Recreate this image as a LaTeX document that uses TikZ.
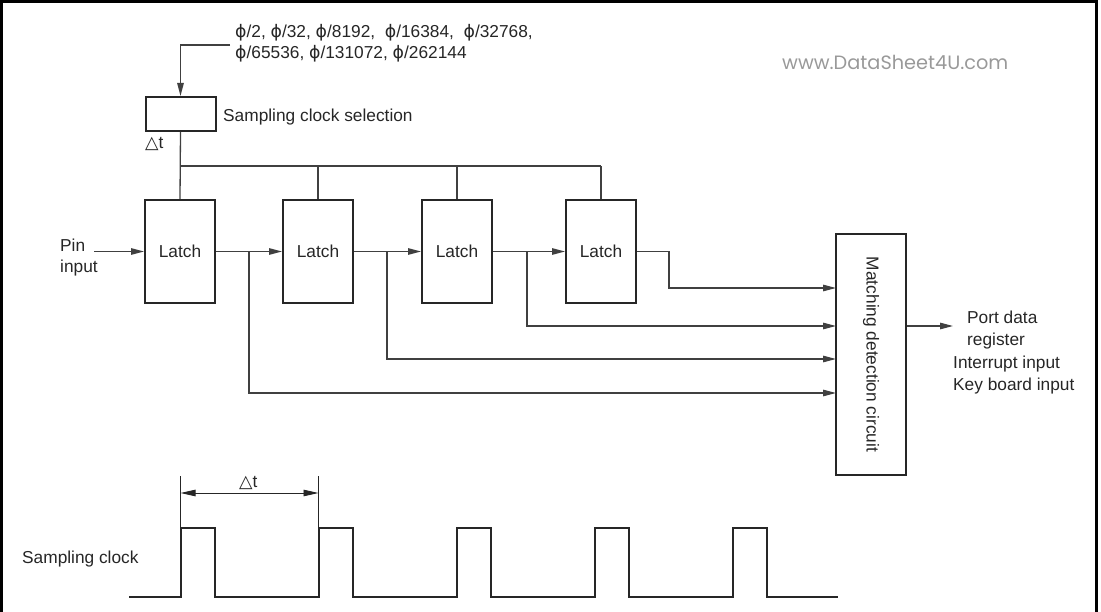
\documentclass[tikz,border=0pt]{standalone}
\usepackage{fontspec}
\setmainfont{Liberation Sans}
\newfontfamily\dvs{DejaVu Sans}
\newfontfamily\wmfont{Poppins}
\usetikzlibrary{arrows.meta}
\newcommand\phig{{\dvs ϕ}}
\newcommand\mydt{{\dvs\fontsize{17.5}{18}\selectfont △}t}
\begin{document}
\begin{tikzpicture}[x=1pt,y=-1pt,
  every node/.style={font=\fontsize{17.3}{21}\selectfont, text=black!85},
  box/.style={draw=black!85, line width=2pt, inner sep=0, minimum width=70pt},
  wire/.style={draw=black!75, line width=1.3pt},
  arr/.style={wire, -{Triangle[length=13pt,width=6.5pt]}},
  lbl/.style={inner sep=0, anchor=base west},
  wave/.style={draw=black!85, line width=2pt},
  dim/.style={draw=black!85, line width=0.9pt},
]
\useasboundingbox (0,0) rectangle (1101,612);
\draw[line width=3pt] (1.5,615) -- (1.5,1.5) -- (1096.5,1.5) -- (1096.5,615);

% boxes
\node[box, minimum height=34pt] (sel) at (180.5,114) {};
\node[box, minimum height=103pt] (L1) at (180,251.5) {Latch};
\node[box, minimum height=103pt] (L2) at (318,251.5) {Latch};
\node[box, minimum height=103pt] (L3) at (457,251.5) {Latch};
\node[box, minimum height=103pt] (L4) at (601,251.5) {Latch};
\node[box, minimum height=241pt] (M) at (871,354.5) {};
\node[rotate=-90, inner sep=0] (Mt) at (M.center) {Matching detection circuit};

% labels
\node[lbl] (t1) at (235,38) {\phig/2, \phig/32, \phig/8192,\ \ \phig/16384,\ \ \phig/32768,};
\node[lbl] (t2) at (235,59) {\phig/65536, \phig/131072, \phig/262144};
\node[lbl] (selt) at (223,122) {Sampling clock selection};
\node[lbl] (dt1) at (145,149) {\mydt};
\node[lbl] (pin) at (60,252) {Pin};
\node[lbl] (pin2) at (60,273) {input};
\node[lbl] (o1) at (967,324) {Port data};
\node[lbl] (o2) at (967,346) {register};
\node[lbl] (o3) at (953,369) {Interrupt input};
\node[lbl] (o4) at (953,391) {Key board input};
\node[lbl] (sc) at (22,563) {Sampling clock};
\node[lbl] (dt2) at (239,487) {\mydt};
\node[lbl, text=black!40, font=\wmfont\fontsize{19.3}{22}\selectfont] (wm) at (782,70) {www.DataSheet4U.com};

% clock selection input
\coordinate (inA) at (230,45);
\draw[arr] (inA) -| (sel.north);
\draw[wire] (sel.south) -- (L1.north);
\coordinate (busL) at (180,166);
\coordinate (busR) at (601,166);
\draw[wire] (busL) -- (busR);
\foreach \n in {L2,L3,L4} \draw[wire] (\n.north) -- (\n.north |- busL);

% data path
\coordinate (pinA) at (94,251.5);
\draw[arr] (pinA) -- (L1.west);
\draw[arr] (L1.east) -- (L2.west);
\draw[arr] (L2.east) -- (L3.west);
\draw[arr] (L3.east) -- (L4.west);
\coordinate (m1) at (836,288);
\coordinate (m2) at (836,326);
\coordinate (m3) at (836,359);
\coordinate (m4) at (836,393);
\coordinate (b1) at (249,251.5);
\coordinate (b2) at (387,251.5);
\coordinate (b3) at (527,251.5);
\coordinate (b4) at (669,251.5);
\draw[arr] (b1) |- (m4);
\draw[arr] (b2) |- (m3);
\draw[arr] (b3) |- (m2);
\draw[arr] (L4.east) -- (b4) |- (m1);
\coordinate (out) at (953,326);
\draw[arr] (M.east |- out) -- (out);

% waveform
\draw[wave] (129,597) foreach \x in {180.5,318.5,456.5,595,733} { -- (\x,597) -- (\x,528) -- (\x+34,528) -- (\x+34,597) } -- (838,597);
\coordinate (d1) at (180.5,476);
\coordinate (d2) at (318.5,476);
\draw[dim] (d1) -- (180.5,528);
\draw[dim] (d2) -- (318.5,528);
\draw[dim, {Triangle[length=15pt,width=6.5pt]}-{Triangle[length=15pt,width=6.5pt]}] (180.5,493) -- (318.5,493);
\end{tikzpicture}
\end{document}
